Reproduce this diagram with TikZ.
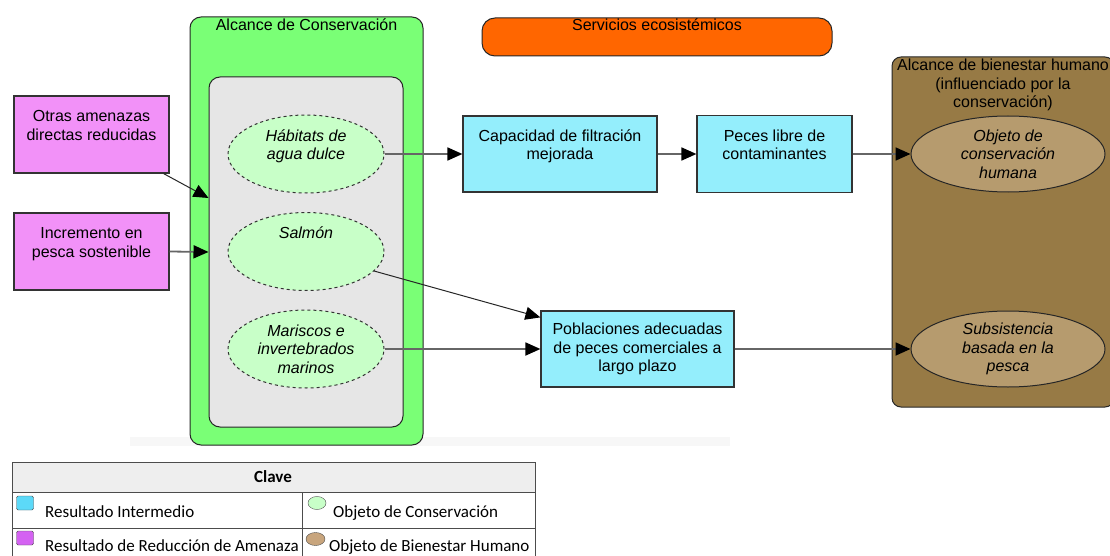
\documentclass[tikz,border=0pt]{standalone}
\usepackage{fontspec}
\setmainfont{Liberation Sans}
\newfontfamily\keyfont{Carlito}
\usetikzlibrary{arrows.meta,positioning,shapes.geometric}

\definecolor{consgreen}{RGB}{122,255,118}
\definecolor{innergray}{RGB}{230,230,230}
\definecolor{targetgreen}{RGB}{200,255,200}
\definecolor{threatpink}{RGB}{242,145,248}
\definecolor{resultcyan}{RGB}{148,238,252}
\definecolor{servorange}{RGB}{255,102,0}
\definecolor{welfarebrown}{RGB}{151,122,69}
\definecolor{welfaretan}{RGB}{182,155,110}
\definecolor{keycyan}{RGB}{92,217,248}
\definecolor{keypurple}{RGB}{212,98,242}
\definecolor{keytan}{RGB}{200,165,125}
\definecolor{keyhead}{RGB}{238,238,238}

\newcommand{\diagfont}{\fontsize{16}{18.5}\selectfont}
\newcommand{\keysize}{\fontsize{17}{19}\selectfont}

\begin{document}
\begin{tikzpicture}[x=1pt, y=-1pt, auto,
    scopebox/.style={draw=black!85, rounded corners=11pt, line width=1pt, inner sep=0pt},
    scopetitle/.style={anchor=north, inner sep=2.5pt, font=\diagfont, align=center},
    threatbox/.style={draw=black!80, fill=threatpink, rectangle, line width=1.2pt, minimum width=155pt, minimum height=77pt, inner sep=0pt, align=center, font=\diagfont},
    resultbox/.style={draw=black!80, fill=resultcyan, rectangle, line width=1.2pt, minimum height=76pt, inner sep=0pt, align=center, font=\diagfont},
    targetell/.style={draw=black!80, dashed, fill=targetgreen, ellipse, line width=1pt, minimum width=156pt, minimum height=78pt, inner sep=0pt, align=center, font=\diagfont\itshape},
    welfareell/.style={draw=black!85, fill=welfaretan, ellipse, line width=1pt, minimum width=194pt, minimum height=76pt, inner sep=0pt, align=center, font=\diagfont\itshape},
    link/.style={draw=black!60, line width=1.8pt, -{Triangle[length=15pt,width=13pt,color=black]}},
    thinlink/.style={draw=black!85, line width=1pt, -{Triangle[length=15pt,width=13pt,color=black]}},
    keyswatch/.style={draw=black!70, minimum width=17pt, minimum height=14pt, inner sep=0pt},
    keytext/.style={anchor=base west, inner sep=0pt, font=\keyfont\keysize}]
    \useasboundingbox (0,0) rectangle (1110,556);

    % faint band under the conservation scope
    \fill[black!3] (130,437) rectangle (730,446);

    \node [scopebox, fill=consgreen, minimum width=233pt, minimum height=428pt,
        label={[scopetitle]north:Alcance de Conservación}] (alcance) at (306.5,231) {};
    \node [scopebox, fill=innergray, minimum width=194pt, minimum height=350pt] (inner) at (306,252) {};
    \node [scopebox, fill=servorange, rounded corners=13pt, minimum width=350pt, minimum height=38pt,
        label={[scopetitle, inner sep=1.5pt]north:Servicios ecosistémicos}] (servicios) at (657,37) {};
    \node [scopebox, fill=welfarebrown, rounded corners=9pt, minimum width=222pt, minimum height=350pt,
        label={[scopetitle]north:{Alcance de bienestar humano\\(influenciado por la\\conservación)}}] (bienestar) at (1003,232) {};

    \node [threatbox] (otras) at (91.5,134.5) {Otras amenazas\\directas reducidas\\\mbox{}};
    \node [threatbox, below of=otras, node distance=117pt] (incremento) {Incremento en\\pesca sostenible\\\mbox{}};

    \node [targetell] (habitats) at (306,154) {Hábitats de\\agua dulce\\\mbox{}};
    \node [targetell, below of=habitats, node distance=97.5pt] (salmon) {Salmón\\\mbox{}\\\mbox{}};
    \node [targetell, below of=salmon, node distance=97.5pt] (mariscos) {Mariscos e\\invertebrados\\marinos};

    \node [resultbox, minimum width=194pt] (capacidad) at (560,154) {Capacidad de filtración\\mejorada\\\mbox{}};
    \node [resultbox, minimum width=155pt, minimum height=77pt, right of=capacidad, node distance=214.5pt] (peces) {Peces libre de\\contaminantes\\\mbox{}};
    \node [resultbox, minimum width=193pt] (poblaciones) at (637.5,349) {Poblaciones adecuadas\\de peces comerciales a\\largo plazo};

    \node [welfareell] (objeto) at (1008,154) {Objeto de\\conservación\\humana};
    \node [welfareell] (subsistencia) at (1008,349) {Subsistencia\\basada en la\\pesca};

    \draw [thinlink] ([xshift=-6pt]otras.south east) -- ([yshift=54pt]inner.west);
    \draw [link] (incremento.east) -- (inner.west);
    \draw [link] (habitats.east) -- (capacidad.west);
    \draw [link] (capacidad) -- (peces);
    \draw [link] (peces.east) -- (objeto.west);
    \draw [thinlink] (salmon.-16) -- ([yshift=-7pt]poblaciones.north west);
    \draw [link] (mariscos.east) -- (poblaciones.west);
    \draw [link] (poblaciones.east) -- (subsistencia.west);

    % key
    \draw [black!70, fill=keyhead, line width=1pt] (12,462) rectangle (535,492);
    \draw [black!70, line width=1pt] (12,492) rectangle (535,528);
    \draw [black!70, line width=1pt] (12,528) rectangle (535,562);
    \draw [black!70, line width=1pt] (302,492) -- (302,562);
    \node [font=\keyfont\keysize\bfseries, inner sep=0pt] (clave) at (273,477) {Clave};
    \node [keyswatch, fill=keycyan, rectangle, rounded corners=1.5pt] (swcyan) at (25,503) {};
    \node [keytext] (intermedio) at (45,517) {Resultado Intermedio};
    \node [keyswatch, fill=keypurple, rectangle, rounded corners=1.5pt] (swpurple) at (25,538) {};
    \node [keytext] (reduccion) at (45,551) {Resultado de Reducción de Amenaza};
    \node [keyswatch, fill=targetgreen, ellipse, minimum width=18pt, minimum height=13pt] (swgreen) at (317,503) {};
    \node [keytext] (conservacion) at (333,517) {Objeto de Conservación};
    \node [keyswatch, fill=keytan, ellipse, minimum width=19pt, minimum height=13pt] (swtan) at (315.5,539) {};
    \node [keytext] (humano) at (329,551) {Objeto de Bienestar Humano};
\end{tikzpicture}
\end{document}
